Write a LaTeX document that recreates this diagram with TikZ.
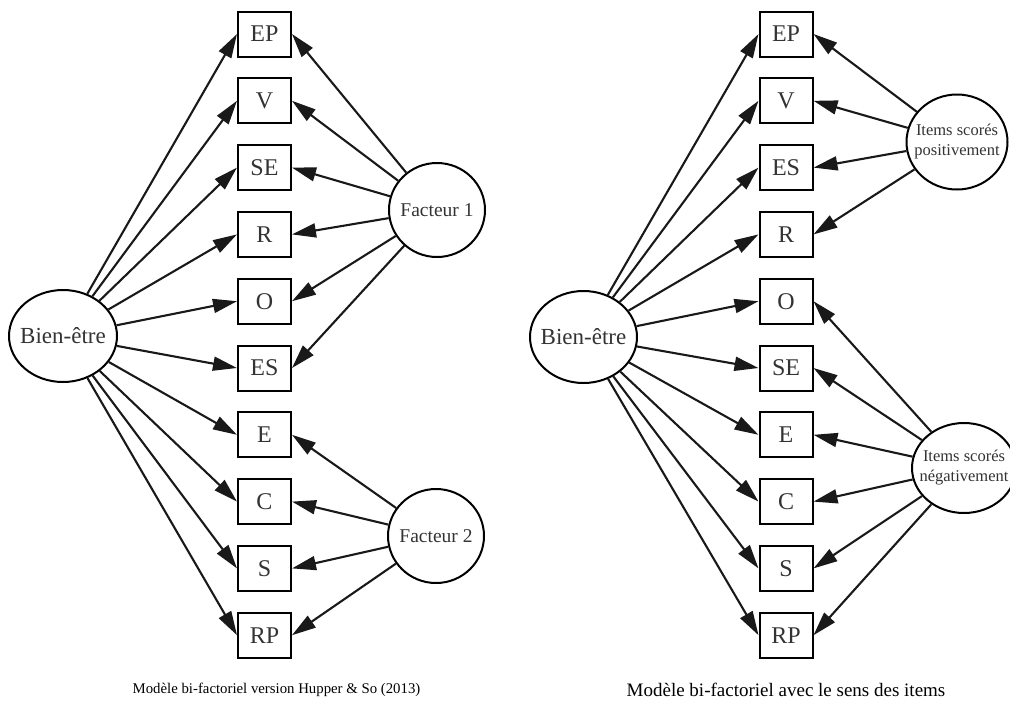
\documentclass[tikz,border=0pt]{standalone}
\usepackage{fontspec}
\setmainfont{Liberation Serif}
\usetikzlibrary{arrows.meta,shapes.geometric}
\tikzset{
	itembox/.style={draw, line width=2pt, minimum width=53pt, minimum height=45pt, inner sep=0pt, text=black!80, font=\fontsize{24}{24}\selectfont},
	latent/.style={draw, ellipse, line width=2pt, inner xsep=-22pt, inner ysep=0pt, text=black!80, font=\fontsize{19.5}{20}\selectfont},
	small latent/.style={latent, align=center, font=\fontsize{16.5}{20}\selectfont},
	load/.style={line width=2.1pt, color=black!90, -{Triangle[length=24pt, width=14pt]}},
	caption/.style={text=black}
}

\begin{document}
\begin{tikzpicture}[x=1pt, y=-1pt]
			%%%%% START %%%%%
			\useasboundingbox (0, 0) rectangle (1010, 713);
			
			% left model
			\node[latent, minimum width=108pt, minimum height=92pt, font=\fontsize{23}{24}\selectfont] (bienL) at (63, 336) {Bien-être};
			\node[latent, minimum width=96pt, minimum height=94pt] (fac1) at (437, 210) {Facteur 1};
			\node[latent, minimum width=96pt, minimum height=94pt] (fac2) at (436, 536) {Facteur 2};
			
			\node[itembox] (lEP) at (264.5, 34) {EP};
			\node[itembox] (lV) at (264.5, 100.8) {V};
			\node[itembox] (lSE) at (264.5, 167.6) {SE};
			\node[itembox] (lR) at (264.5, 234.4) {R};
			\node[itembox] (lO) at (264.5, 301.2) {O};
			\node[itembox] (lES) at (264.5, 368) {ES};
			\node[itembox] (lE) at (264.5, 434.8) {E};
			\node[itembox] (lC) at (264.5, 501.6) {C};
			\node[itembox] (lS) at (264.5, 568.4) {S};
			\node[itembox] (lRP) at (264.5, 635.2) {RP};
			
			\draw[load] (bienL) -- (lEP.west);
			\draw[load] (bienL) -- (lV.west);
			\draw[load] (bienL) -- (lSE.west);
			\draw[load] (bienL) -- (lR.west);
			\draw[load] (bienL) -- (lO.west);
			\draw[load] (bienL) -- (lES.west);
			\draw[load] (bienL) -- (lE.west);
			\draw[load] (bienL) -- (lC.west);
			\draw[load] (bienL) -- (lS.west);
			\draw[load] (bienL) -- (lRP.west);
			
			\draw[load] (fac1) -- (lEP.east);
			\draw[load] (fac1) -- (lV.east);
			\draw[load] (fac1) -- (lSE.east);
			\draw[load] (fac1) -- (lR.east);
			\draw[load] (fac1) -- (lO.east);
			\draw[load] (fac1) -- (lES.east);
			
			\draw[load] (fac2) -- (lE.east);
			\draw[load] (fac2) -- (lC.east);
			\draw[load] (fac2) -- (lS.east);
			\draw[load] (fac2) -- (lRP.east);
			
			% right model
			\node[latent, minimum width=107pt, minimum height=92pt, font=\fontsize{23}{24}\selectfont] (bienR) at (583.5, 337) {Bien-être};
			\node[small latent, minimum width=101pt, minimum height=95pt] (pos) at (957, 142) {Items scorés\\positivement};
			\node[small latent, minimum width=104pt, minimum height=90pt] (neg) at (964, 468) {Items scorés\\négativement};
			
			\node[itembox] (rEP) at (786, 34) {EP};
			\node[itembox] (rV) at (786, 100.8) {V};
			\node[itembox] (rES) at (786, 167.6) {ES};
			\node[itembox] (rR) at (786, 234.4) {R};
			\node[itembox] (rO) at (786, 301.2) {O};
			\node[itembox] (rSE) at (786, 368) {SE};
			\node[itembox] (rE) at (786, 434.8) {E};
			\node[itembox] (rC) at (786, 501.6) {C};
			\node[itembox] (rS) at (786, 568.4) {S};
			\node[itembox] (rRP) at (786, 635.2) {RP};
			
			\draw[load] (bienR) -- (rEP.west);
			\draw[load] (bienR) -- (rV.west);
			\draw[load] (bienR) -- (rES.west);
			\draw[load] (bienR) -- (rR.west);
			\draw[load] (bienR) -- (rO.west);
			\draw[load] (bienR) -- (rSE.west);
			\draw[load] (bienR) -- (rE.west);
			\draw[load] (bienR) -- (rC.west);
			\draw[load] (bienR) -- (rS.west);
			\draw[load] (bienR) -- (rRP.west);
			
			\draw[load] (pos) -- (rEP.east);
			\draw[load] (pos) -- (rV.east);
			\draw[load] (pos) -- (rES.east);
			\draw[load] (pos) -- (rR.east);
			
			\draw[load] (neg) -- (rO.east);
			\draw[load] (neg) -- (rSE.east);
			\draw[load] (neg) -- (rE.east);
			\draw[load] (neg) -- (rC.east);
			\draw[load] (neg) -- (rS.east);
			\draw[load] (neg) -- (rRP.east);
			
			% captions
			\node[caption, font=\fontsize{14.8}{18}\selectfont] (capL) at (276.5, 690) {Modèle bi-factoriel version Hupper \& So (2013)};
			\node[caption, font=\fontsize{19}{22}\selectfont] (capR) at (786, 690) {Modèle bi-factoriel avec le sens des items};
			
			%%%%% END %%%%%
\end{tikzpicture}
\end{document}
